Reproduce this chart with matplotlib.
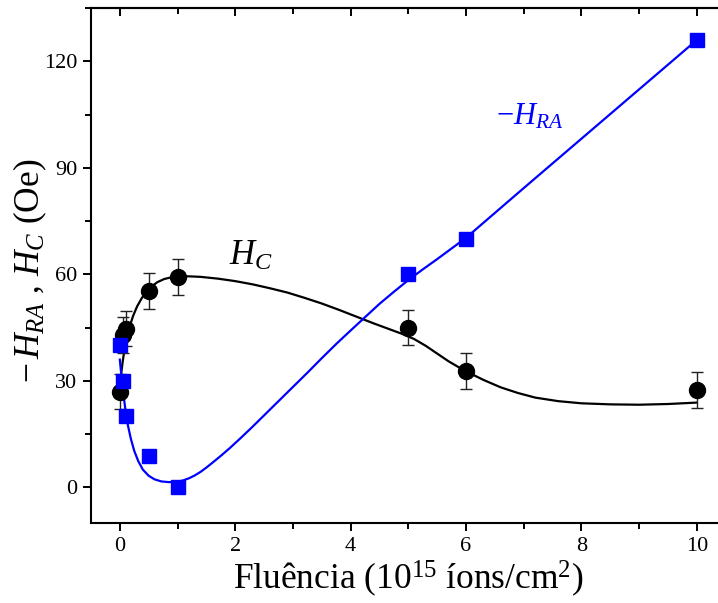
import matplotlib
matplotlib.use("Agg")
import matplotlib.pyplot as plt
from matplotlib.ticker import MultipleLocator

plt.rcParams["font.family"] = ["Liberation Serif", "DejaVu Serif"]
plt.rcParams["mathtext.fontset"] = "custom"
plt.rcParams["mathtext.rm"] = "Liberation Serif"
plt.rcParams["mathtext.it"] = "Liberation Serif:italic"
plt.rcParams["mathtext.bf"] = "Liberation Serif:bold"

# Measured coercive field H_C (Oe) with error bars
fluence = [0, 0.05, 0.1, 0.5, 1, 5, 6, 10]
hc = [27, 43, 44.7, 55.3, 59.2, 45, 32.8, 27.4]
hc_err = [5, 5, 5, 5, 5, 5, 5, 5]

# Measured -H_RA (Oe)
hra = [40, 30, 20, 9, 0, 60, 70, 126]

# Guide-to-the-eye curves traced along the data
hc_fit_x = [0.0, 0.02, 0.05, 0.08, 0.12, 0.17, 0.23, 0.3, 0.38, 0.46, 0.55,
            0.65, 0.77, 0.9, 1.05, 1.2, 1.4, 1.7, 2.0, 2.3, 2.6, 2.9, 3.2,
            3.5, 3.8, 4.1, 4.4, 4.7, 4.9, 5.1, 5.3, 5.5, 5.7, 5.9, 6.1, 6.3,
            6.6, 6.9, 7.2, 7.6, 8.0, 8.5, 9.0, 9.5, 10.0]
hc_fit_y = [28, 31.5, 35.5, 38.7, 42, 45.3, 48.3, 51, 53.3, 55.1, 56.6,
            57.8, 58.7, 59.2, 59.45, 59.45, 59.3, 58.8, 58.1, 57.2, 56.1,
            54.9, 53.4, 51.8, 50.0, 48.1, 46.2, 44.4, 43.2, 41.8, 39.9, 37.7,
            35.5, 33.6, 31.9, 30.3, 28.2, 26.6, 25.3, 24.3, 23.7, 23.4, 23.3,
            23.5, 23.9]

hra_fit_x = [0.0, 0.03, 0.06, 0.1, 0.14, 0.19, 0.25, 0.32, 0.4, 0.5, 0.6,
             0.72, 0.85, 1.0, 1.1, 1.2, 1.3, 1.4, 1.5, 1.6, 1.75, 1.9, 2.1,
             2.3, 2.5, 2.75, 3.0, 3.25, 3.5, 3.75, 4.0, 4.26, 4.5, 4.75, 5.0,
             5.25, 5.5, 5.75, 6.0, 6.5, 7.0, 8.0, 9.0, 10.0]
hra_fit_y = [36, 31, 26.5, 21.5, 17.5, 13.8, 10.3, 7.4, 5.0, 3.3, 2.3, 1.7,
             1.5, 1.6, 2.0, 2.6, 3.4, 4.4, 5.6, 6.9, 8.9, 11.0, 14.0, 17.1,
             20.3, 24.3, 28.3, 32.3, 36.4, 40.4, 44.2, 48.1, 51.7, 55.1, 58.4,
             61.4, 64.3, 67.3, 70.3, 77.3, 84.3, 98.2, 112.1, 126.0]

fig = plt.figure(figsize=(7.18, 6.03), dpi=100)
ax = fig.add_axes([0.1267, 0.1327, 0.8840, 0.854])

ax.plot(hc_fit_x, hc_fit_y, color="black", lw=1.6, zorder=2,
        solid_joinstyle="round")
ax.plot(hra_fit_x, hra_fit_y, color="#0000ff", lw=1.6, zorder=3,
        solid_joinstyle="round")

ax.errorbar(fluence, hc, yerr=hc_err, fmt="none", ecolor="#222222",
            elinewidth=1.0, capsize=4.5, capthick=1.0, zorder=4)
ax.plot(fluence, hc, "o", color="black", ms=11.5, zorder=5)
ax.plot(fluence, hra, "s", color="#0000ff", ms=10.5, zorder=6)

ax.text(1.9, 65.0, r"$H_C$", fontsize=25, color="black", ha="left", va="center")
ax.text(6.52, 104.5, r"$-H_{RA}$", fontsize=22, color="#0000ff", ha="left", va="center")

ax.set_xlim(-0.5, 10.5)
ax.set_ylim(-10, 135)
ax.xaxis.set_major_locator(MultipleLocator(2))
ax.xaxis.set_minor_locator(MultipleLocator(1))
ax.yaxis.set_major_locator(MultipleLocator(30))
ax.yaxis.set_minor_locator(MultipleLocator(15))

for s in ax.spines.values():
    s.set_linewidth(1.5)

ax.tick_params(which="both", direction="out", top=False, right=False,
               width=1.4, labelsize=16, pad=4)
ax.tick_params(which="major", length=6)
ax.tick_params(which="minor", length=4)

# inward ticks on the top and right frame
ax_top = ax.secondary_xaxis("top")
ax_top.xaxis.set_major_locator(MultipleLocator(2))
ax_top.xaxis.set_minor_locator(MultipleLocator(1))
ax_top.tick_params(which="both", direction="in", width=1.4, labeltop=False)
ax_top.tick_params(which="major", length=6)
ax_top.tick_params(which="minor", length=4)
ax_top.spines["top"].set_linewidth(1.5)

ax_right = ax.secondary_yaxis("right")
ax_right.yaxis.set_major_locator(MultipleLocator(30))
ax_right.yaxis.set_minor_locator(MultipleLocator(15))
ax_right.tick_params(which="both", direction="in", width=1.4, labelright=False)
ax_right.tick_params(which="major", length=6)
ax_right.tick_params(which="minor", length=4)

ax.set_xlabel("Fluência (10$^{15}$ íons/cm$^{2}$)", fontsize=25.5, labelpad=2)
ax.set_ylabel(r"$-\,H_{RA}$ , $H_C$ (Oe)", fontsize=25.5)
ax.yaxis.set_label_coords(-0.066, 0.49)

fig.savefig("out.png", dpi=100)
